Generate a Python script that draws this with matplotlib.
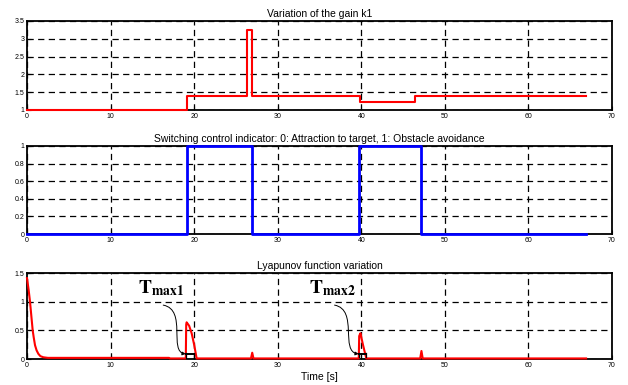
import matplotlib
matplotlib.use("Agg")
import matplotlib.pyplot as plt
from matplotlib.path import Path
from matplotlib.patches import FancyArrowPatch

plt.rcParams['font.family'] = ['Liberation Sans', 'DejaVu Sans']
plt.rcParams['mathtext.fontset'] = 'stix'

# gain k1 (piecewise constant, switch times)
k1_t = [0, 19.1, 26.3, 26.9, 39.8, 46.4, 66.9]
k1_v = [1.0, 1.38, 3.25, 1.38, 1.22, 1.38, 1.38]

# switching indicator
sw_t = [0, 19.1, 26.9, 39.75, 47.1, 66.9]
sw_v = [0, 1, 0, 1, 0, 0]

# Lyapunov function
ly_t = [0, 0.2, 0.36, 0.5, 0.68, 0.8, 0.96, 1.15, 1.36, 1.6, 1.96, 2.5, 17.0, 17.1,
        19.0, 19.05, 19.1, 19.4, 19.7, 20.0, 20.3, 26.8, 26.95, 27.1,
        39.7, 39.75, 39.9, 40.2, 40.6, 47.05, 47.2, 47.35, 66.9]
ly_v = [1.41, 1.2, 1.0, 0.78, 0.5, 0.38, 0.24, 0.15, 0.09, 0.05, 0.03, 0.02, 0.02, 0.01,
        0.01, 0.6, 0.64, 0.58, 0.45, 0.25, 0.01, 0.01, 0.11, 0.01,
        0.01, 0.4, 0.45, 0.25, 0.01, 0.01, 0.14, 0.01, 0.01]

# Tmax markers: (start, end, level)
tmax_spans = [(19.0, 20.0, 0.08), (39.7, 40.6, 0.09)]
tmax_labels = ['max1', 'max2']

xticks = [0, 10, 20, 30, 40, 50, 60, 70]

fig = plt.figure(figsize=(6.28, 3.85), dpi=100)
ax1 = fig.add_axes([0.043, 0.7143, 0.9315, 0.2312])
ax2 = fig.add_axes([0.043, 0.3922, 0.9315, 0.2286])
ax3 = fig.add_axes([0.043, 0.0675, 0.9315, 0.2234])


def style(ax, yticks, ylabels, title):
    ax.set_xlim(0, 70)
    ax.set_ylim(yticks[0], yticks[-1])
    ax.set_xticks(xticks)
    ax.set_xticklabels([str(x) for x in xticks])
    ax.set_yticks(yticks)
    ax.set_yticklabels(ylabels)
    ax.tick_params(direction='in', labelsize=5, length=3, width=0.8, pad=2)
    ax.grid(True, color='black', linestyle=(0, (5, 3.5)), linewidth=0.9)
    for s in ax.spines.values():
        s.set_linewidth(1.3)
    ax.set_title(title, fontsize=7.5, pad=3)


ax1.plot(k1_t, k1_v, color='red', linewidth=1.5, drawstyle='steps-post',
         clip_on=False, zorder=5)
style(ax1, [1, 1.5, 2, 2.5, 3, 3.5], ['1', '1.5', '2', '2.5', '3', '3.5'],
      'Variation of the gain k1')

ax2.plot(sw_t, sw_v, color='blue', linewidth=2.0, drawstyle='steps-post',
         clip_on=False, zorder=5)
style(ax2, [0, 0.2, 0.4, 0.6, 0.8, 1], ['0', '0.2', '0.4', '0.6', '0.8', '1'],
      'Switching control indicator: 0: Attraction to target, 1: Obstacle avoidance')

ax3.plot(ly_t, ly_v, color='red', linewidth=1.5, clip_on=False, zorder=5)
style(ax3, [0, 0.5, 1, 1.5], ['0', '0.5', '1', '1.5'], 'Lyapunov function variation')
ax3.set_xlabel('Time [s]', fontsize=7.5, labelpad=2)

# Tmax brackets and labels
label_pos = [(13.3, 1.24), (33.8, 1.24)]
arrow_ctrl = [
    [(16.3, 0.94), (19.2, 0.86), (16.9, 0.12), (19.0, 0.09)],
    [(36.8, 0.94), (39.7, 0.86), (37.4, 0.12), (39.7, 0.09)],
]
for (a, b, lev), lab, (lx, lyy), ctrl in zip(tmax_spans, tmax_labels, label_pos, arrow_ctrl):
    ax3.plot([a, b], [lev, lev], color='black', linewidth=1.4, zorder=6)
    ax3.plot([a, a], [lev - 0.06, lev + 0.02], color='black', linewidth=0.9, zorder=6)
    ax3.plot([b, b], [lev - 0.06, lev + 0.02], color='black', linewidth=0.9, zorder=6)
    ax3.text(lx, lyy, r'$\mathbf{T}_{\mathbf{' + lab + '}}$', fontsize=14,
             va='center', ha='left')
    p = Path(ctrl, [Path.MOVETO, Path.CURVE4, Path.CURVE4, Path.CURVE4])
    arr = FancyArrowPatch(path=p, arrowstyle='-|>', mutation_scale=5,
                          color='black', linewidth=0.7, transform=ax3.transData)
    ax3.add_patch(arr)

fig.savefig('out.png', dpi=100)
